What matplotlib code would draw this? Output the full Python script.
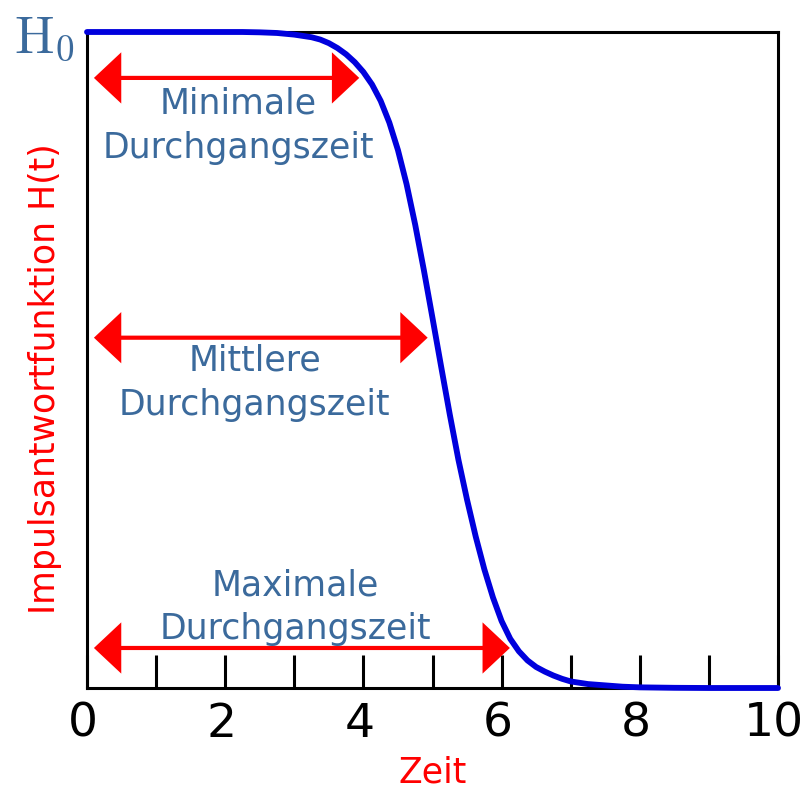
import matplotlib.pyplot as plt
from matplotlib.transforms import ScaledTranslation

t_vals = [0.0, 1.0, 2.0, 2.25, 2.5, 2.75, 3.0, 3.125, 3.25, 3.375, 3.5, 3.625,
          3.75, 3.875, 4.0, 4.125, 4.25, 4.375, 4.5, 4.625, 4.75, 4.875, 5.0,
          5.125, 5.25, 5.375, 5.5, 5.625, 5.75, 5.875, 6.0, 6.125, 6.25, 6.375,
          6.5, 6.625, 6.75, 6.875, 7.0, 7.25, 7.5, 7.75, 8.0, 8.5, 9.0, 10.0]
h_vals = [1.0, 1.0, 1.0, 1.0, 0.9995, 0.9985, 0.996, 0.994, 0.992, 0.9885,
          0.983, 0.9755, 0.966, 0.954, 0.939, 0.920, 0.895, 0.862, 0.820, 0.768,
          0.706, 0.637, 0.564, 0.490, 0.417, 0.348, 0.287, 0.231, 0.181, 0.138,
          0.102, 0.075, 0.056, 0.042, 0.032, 0.025, 0.019, 0.014, 0.010, 0.006,
          0.004, 0.002, 0.001, 0.0003, 0.0, 0.0]

# transit time arrows: level on the curve and the time it is reached
arrow_levels = [0.93, 0.534, 0.061]
arrow_ends = [3.94, 4.93, 6.12]
arrow_start = 0.1

labels = ["Minimale\nDurchgangszeit",
          "Mittlere\nDurchgangszeit",
          "Maximale\nDurchgangszeit"]
label_x = [2.19, 2.43, 3.01]
label_y = [0.857, 0.465, 0.123]

major_ticks = [0, 2, 4, 6, 8, 10]
minor_ticks = [1, 3, 5, 7, 9]

text_blue = "#3b6a9c"

fig = plt.figure(figsize=(8.04, 7.93), dpi=100)
ax = fig.add_axes([87 / 804, 105 / 793, 691 / 804, 656 / 793])

ax.plot(t_vals, h_vals, color="#0000dd", linewidth=4.2,
        solid_capstyle="round", solid_joinstyle="round", clip_on=False, zorder=5)

for lvl, end in zip(arrow_levels, arrow_ends):
    ax.annotate("", xy=(end, lvl), xytext=(arrow_start, lvl),
                arrowprops=dict(arrowstyle="<|-|>,head_length=0.8,head_width=0.75",
                                mutation_scale=20, color="red", lw=3,
                                joinstyle="miter", capstyle="butt",
                                shrinkA=0, shrinkB=0))

for txt, x, y in zip(labels, label_x, label_y):
    ax.text(x, y, txt, ha="center", va="center", color=text_blue,
            fontsize=25, linespacing=1.38)

ax.set_xlim(0, 10)
ax.set_ylim(0, 1)

for sp in ax.spines.values():
    sp.set_linewidth(2.2)

ax.set_xticks(major_ticks)
ax.set_xticks(minor_ticks, minor=True)
ax.tick_params(axis="x", which="both", direction="in", length=24, width=2.2,
               labelsize=34, pad=10)
ax.set_yticks([])

# nudge tick labels a little to the left so "10" stays inside the figure
shift = ScaledTranslation(-4 / 100, 0, fig.dpi_scale_trans)
for lab in ax.get_xticklabels():
    lab.set_transform(lab.get_transform() + shift)

ax.set_xlabel("Zeit", color="red", fontsize=25, labelpad=6)
ax.set_ylabel("Impulsantwortfunktion H(t)", color="red", fontsize=25)
ax.yaxis.set_label_coords(-0.036, 0.471)

ax.text(-0.017, 0.9695, r"$\mathrm{H}_0$", transform=ax.transAxes, ha="right",
        va="baseline", color=text_blue, fontsize=38, math_fontfamily="cm")

fig.savefig("out.png", dpi=100)
